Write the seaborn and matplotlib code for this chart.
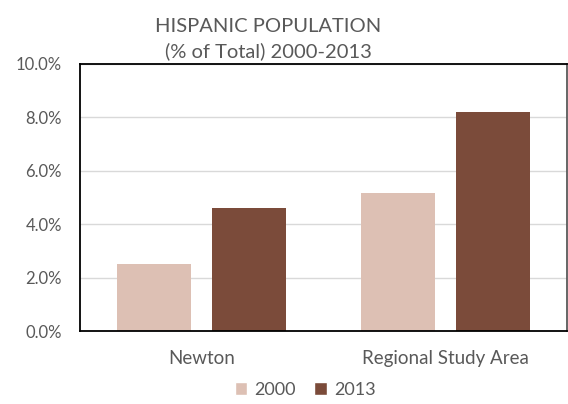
import matplotlib
matplotlib.use("Agg")
import matplotlib.pyplot as plt
import seaborn as sns
import pandas as pd
from matplotlib.ticker import FuncFormatter
from matplotlib.patches import Patch

categories = ["Newton", "Regional Study Area"]
years = ["2000", "2013"]
values_2000 = [2.5, 5.15]
values_2013 = [4.6, 8.2]
yticks = [0, 2, 4, 6, 8, 10]

colors = {"2000": "#DDC0B4", "2013": "#7B4B3A"}
text_color = "#595959"

df = pd.DataFrame({
    "Area": categories * 2,
    "Year": [years[0]] * 2 + [years[1]] * 2,
    "Value": values_2000 + values_2013,
})

sns.set_style("white")
plt.rcParams['font.family'] = ['Lato', 'DejaVu Sans']

fig = plt.figure(figsize=(5.68, 4.04), dpi=100)
ax = fig.add_axes([80/568, 1-331/404, 487/568, 267/404])

sns.barplot(data=df, x="Area", y="Value", hue="Year", palette=colors,
            width=0.78, gap=0.22, ax=ax, legend=False, saturation=1,
            linewidth=0)

ax.set_ylim(0, 10)
ax.set_yticks(yticks)
ax.yaxis.set_major_formatter(FuncFormatter(lambda v, p: f"{v:.1f}%"))
ax.set_xlabel("")
ax.set_ylabel("")
ax.grid(axis="y", color="#D9D9D9", linewidth=1)
ax.set_axisbelow(True)
for side in ["left", "bottom", "top"]:
    ax.spines[side].set_color("black")
    ax.spines[side].set_linewidth(1.3)
ax.spines["right"].set_color("#595959")
ax.spines["right"].set_linewidth(1.3)
ax.tick_params(axis="y", length=0, pad=13, labelsize=12, labelcolor=text_color)
ax.tick_params(axis="x", length=0, pad=14, labelsize=13.5, labelcolor=text_color)

fig.text(268/568, 1-26/404, "HISPANIC POPULATION", ha="center", va="center",
         fontsize=14.5, color=text_color)
fig.text(268/568, 1-51/404, "(% of Total) 2000-2013", ha="center", va="center",
         fontsize=14.5, color=text_color)

handles = [Patch(facecolor=colors[y], label=y) for y in years]
fig.legend(handles=handles, loc="center", bbox_to_anchor=(305/568, 1-390/404),
           ncol=2, frameon=False, fontsize=13, labelcolor=text_color,
           handlelength=0.7, handleheight=0.7, handletextpad=0.4, columnspacing=1.0)

fig.savefig("out.png", dpi=100)
